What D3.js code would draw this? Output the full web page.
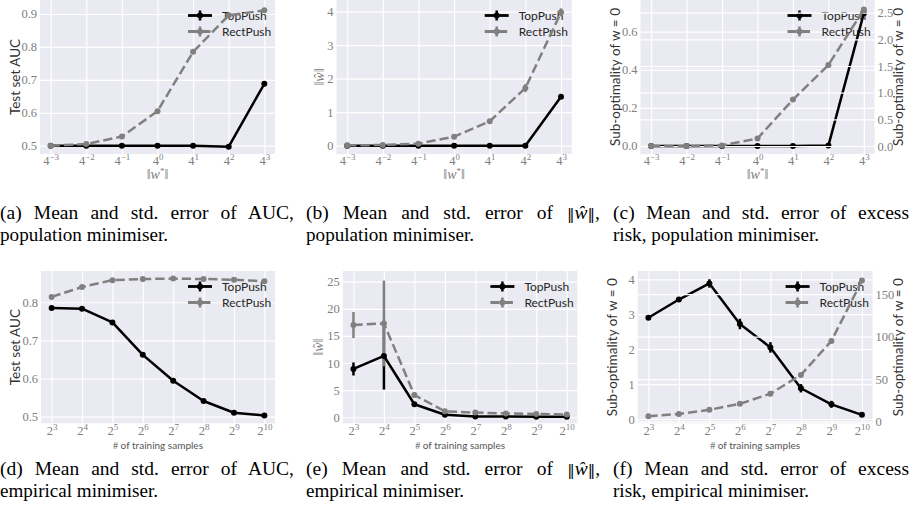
<!DOCTYPE html>
<html>
<head>
<meta charset="utf-8">
<script src="https://cdn.jsdelivr.net/npm/d3@7"></script>
<style>
  body { margin: 0; background: #fff; }
  svg { display: block; }
</style>
</head>
<body>
<svg id="fig" width="909" height="514"></svg>
<script>
// x values are exponents: ||w*|| = 4^k, n = 2^k
const popExponents = [-3, -2, -1, 0, 1, 2, 3];
const sampleExponents = [3, 4, 5, 6, 7, 8, 9, 10];
const seriesNames = ["TopPush", "RectPush"];

// (a) AUC, population minimiser
const aucPopTop = [0.500, 0.500, 0.500, 0.500, 0.500, 0.497, 0.688];
const aucPopTopErr = [0.002, 0.002, 0.002, 0.002, 0.002, 0.002, 0.004];
const aucPopRect = [0.500, 0.505, 0.528, 0.605, 0.785, 0.896, 0.911];
const aucPopRectErr = [0.002, 0.003, 0.003, 0.004, 0.004, 0.004, 0.003];
const aucPopTicks = [0.5, 0.6, 0.7, 0.8, 0.9];

// (b) norm of w-hat, population minimiser
const normPopTop = [0.00, 0.00, 0.00, 0.00, 0.00, 0.00, 1.46];
const normPopTopErr = [0, 0, 0, 0, 0, 0, 0.03];
const normPopRect = [0.01, 0.02, 0.06, 0.27, 0.73, 1.72, 3.98];
const normPopRectErr = [0.00, 0.00, 0.01, 0.02, 0.04, 0.12, 0.12];
const normPopTicks = [0, 1, 2, 3, 4];

// (c) excess risk, population minimiser (RectPush on right axis)
const riskPopTop = [0, 0, 0, 0, 0, 0.002, 0.697];
const riskPopTopErr = [0, 0, 0, 0, 0, 0, 0.01];
const riskPopRect = [0.00, 0.00, 0.01, 0.14, 0.87, 1.52, 2.56];
const riskPopRectErr = [0, 0, 0, 0.01, 0.02, 0.03, 0.03];
const riskPopTicks = [0, 0.2, 0.4, 0.6];
const riskPopRightTicks = [0, 0.5, 1, 1.5, 2, 2.5];

// (d) AUC, empirical minimiser
const aucEmpTop = [0.785, 0.783, 0.747, 0.662, 0.594, 0.541, 0.510, 0.503];
const aucEmpTopErr = [0.003, 0.003, 0.003, 0.003, 0.003, 0.002, 0.002, 0.002];
const aucEmpRect = [0.814, 0.840, 0.858, 0.861, 0.862, 0.861, 0.859, 0.855];
const aucEmpRectErr = [0.003, 0.003, 0.002, 0.002, 0.002, 0.002, 0.002, 0.002];
const aucEmpTicks = [0.5, 0.6, 0.7, 0.8];

// (e) norm of w-hat, empirical minimiser
const normEmpTop = [8.9, 11.3, 2.4, 0.45, 0.15, 0.12, 0.10, 0.10];
const normEmpTopErr = [1.2, 6.2, 0.3, 0.10, 0.05, 0.03, 0.02, 0.02];
const normEmpRect = [17.0, 17.3, 4.1, 1.10, 0.85, 0.70, 0.60, 0.50];
const normEmpRectErr = [2.4, 7.9, 0.5, 0.15, 0.10, 0.08, 0.06, 0.05];
const normEmpTicks = [0, 5, 10, 15, 20, 25];

// (f) excess risk, empirical minimiser (RectPush on right axis)
const riskEmpTop = [2.90, 3.42, 3.88, 2.72, 2.05, 0.88, 0.42, 0.12];
const riskEmpTopErr = [0.05, 0.06, 0.12, 0.15, 0.15, 0.12, 0.10, 0.03];
const riskEmpRect = [6.5, 9, 14, 21, 33, 55, 95, 166];
const riskEmpRectErr = [0.3, 0.4, 0.6, 0.8, 1.0, 1.5, 2.0, 2.5];
const riskEmpTicks = [0, 1, 2, 3, 4];
const riskEmpRightTicks = [0, 50, 100, 150];

const captions = [
  ["(a) Mean and std. error of AUC,", "population minimiser."],
  ["(b) Mean and std. error of \u2016\u0175\u2016,", "population minimiser."],
  ["(c) Mean and std. error of excess", "risk, population minimiser."],
  ["(d) Mean and std. error of AUC,", "empirical minimiser."],
  ["(e) Mean and std. error of \u2016\u0175\u2016,", "empirical minimiser."],
  ["(f) Mean and std. error of excess", "risk, empirical minimiser."]
];

const SERIF = "'Liberation Serif', 'DejaVu Serif', serif";
const SANS = "Lato, 'DejaVu Sans', sans-serif";
const BG = "#eaeaf2";
const TICK = "#808080";
const LABEL = "#333";
const STYLE = [
  { color: "#000", dash: null },
  { color: "#808080", dash: "9.25,4" }
];

const svg = d3.select("#fig");

function gridLines(g, x, y, p, yTicks, withX) {
  const w = p.x1 - p.x0, h = p.y1 - p.y0;
  if (withX) {
    g.append("g").attr("transform", `translate(0,${p.y1})`)
      .call(d3.axisBottom(x).tickValues(p.xs).tickSize(-h).tickFormat(""))
      .call(a => a.select(".domain").remove())
      .call(a => a.selectAll("line").attr("stroke", "#fff").attr("stroke-width", 1.2));
  }
  g.append("g").attr("transform", `translate(${p.x0},0)`)
    .call(d3.axisLeft(y).tickValues(yTicks).tickSize(-w).tickFormat(""))
    .call(a => a.select(".domain").remove())
    .call(a => a.selectAll("line").attr("stroke", "#fff").attr("stroke-width", 1.2));
}

function drawSeries(g, x, y, xs, list) {
  list.forEach(s => {
    const st = STYLE[s.kind];
    g.append("g").selectAll("line").data(s.v).join("line")
      .attr("x1", (d, i) => x(xs[i])).attr("x2", (d, i) => x(xs[i]))
      .attr("y1", (d, i) => y(d - s.e[i])).attr("y2", (d, i) => y(d + s.e[i]))
      .attr("stroke", st.color).attr("stroke-width", 2.5);
  });
  list.forEach(s => {
    const st = STYLE[s.kind];
    const line = d3.line().x((d, i) => x(xs[i])).y(d => y(d));
    g.append("path").datum(s.v)
      .attr("d", line)
      .attr("fill", "none")
      .attr("stroke", st.color)
      .attr("stroke-width", 2.5)
      .attr("stroke-linejoin", "round")
      .attr("stroke-dasharray", st.dash);
    g.append("g").selectAll("circle").data(s.v).join("circle")
      .attr("cx", (d, i) => x(xs[i])).attr("cy", d => y(d))
      .attr("r", 3).attr("fill", st.color);
  });
}

function drawLegend(g, p) {
  const lx = p.x1 - 87, ly = p.y0 + 15.5;
  seriesNames.forEach((name, k) => {
    const st = STYLE[k], yy = ly + k * 16;
    g.append("line").attr("x1", lx).attr("x2", lx + 24).attr("y1", yy).attr("y2", yy)
      .attr("stroke", st.color).attr("stroke-width", 2.8).attr("stroke-dasharray", st.dash);
    g.append("line").attr("x1", lx + 12).attr("x2", lx + 12).attr("y1", yy - 5).attr("y2", yy + 5)
      .attr("stroke", st.color).attr("stroke-width", 2.5);
    g.append("circle").attr("cx", lx + 12).attr("cy", yy).attr("r", 3).attr("fill", st.color);
    g.append("text").attr("x", lx + 34).attr("y", yy).attr("dy", "0.35em")
      .attr("font-family", SANS).attr("font-size", 12).attr("fill", "#262626")
      .text(name);
  });
}

function styleTicks(a) {
  a.select(".domain").remove();
  a.attr("font-family", SERIF).attr("font-size", 12.5);
  a.selectAll("text").attr("fill", TICK);
}

function normHat(t) {
  t.attr("font-family", SERIF).attr("fill", TICK).attr("font-size", 14);
  t.append("tspan").text("\u2016");
  t.append("tspan").attr("font-style", "italic").text("\u0175");
  t.append("tspan").text("\u2016");
}

function subOpt(t) {
  t.attr("font-family", SANS).attr("fill", LABEL).attr("font-size", 13.5)
    .text("Sub-optimality of w = 0");
}

function aucLabel(t) {
  t.attr("font-family", SANS).attr("fill", LABEL).attr("font-size", 13.5)
    .text("Test set AUC");
}

function drawPanel(p) {
  const g = svg.append("g");
  const ext = d3.extent(p.xs), pad = 0.05 * (ext[1] - ext[0]);
  const x = d3.scaleLinear().domain([ext[0] - pad, ext[1] + pad]).range([p.x0, p.x1]);
  const y = d3.scaleLinear().domain(p.yDomain).range([p.y1, p.y0]);

  g.append("rect").attr("x", p.x0).attr("y", p.y0)
    .attr("width", p.x1 - p.x0).attr("height", p.y1 - p.y0).attr("fill", BG);
  gridLines(g, x, y, p, p.yTicks, true);
  drawLegend(g, p);
  drawSeries(g, x, y, p.xs, p.left);

  // left tick labels
  g.append("g").attr("transform", `translate(${p.x0},0)`)
    .call(d3.axisLeft(y).tickValues(p.yTicks).tickSize(0).tickPadding(3).tickFormat(p.yFormat))
    .call(styleTicks);

  // bottom tick labels as base^exp
  g.append("g").attr("transform", `translate(0,${p.y1})`)
    .call(d3.axisBottom(x).tickValues(p.xs).tickSize(0).tickPadding(p.xPad).tickFormat(""))
    .call(styleTicks)
    .selectAll(".tick text").each(function (d) {
      const t = d3.select(this);
      t.append("tspan").text(p.xBase);
      t.append("tspan").attr("dy", -5).attr("font-size", 9)
        .text(String(d).replace("-", "\u2212"));
    });

  if (p.right) {
    const y2 = d3.scaleLinear().domain(p.right.yDomain).range([p.y1, p.y0]);
    gridLines(g, x, y2, p, p.right.yTicks, false);
    drawSeries(g, x, y2, p.xs, p.right.series);
    g.append("g").attr("transform", `translate(${p.x1},0)`)
      .call(d3.axisRight(y2).tickValues(p.right.yTicks).tickSize(0).tickPadding(3).tickFormat(p.right.yFormat))
      .call(styleTicks);
    p.yLabel(g.append("text")
      .attr("transform", `translate(${p.x1 + p.right.labelOffset},${(p.y0 + p.y1) / 2}) rotate(-90)`)
      .attr("text-anchor", "middle").attr("dy", "0.35em"));
  }

  // y label
  p.yLabel(g.append("text")
    .attr("transform", `translate(${p.x0 - p.yLabelOffset},${(p.y0 + p.y1) / 2}) rotate(-90)`)
    .attr("text-anchor", "middle").attr("dy", "0.35em"));

  // x label
  const xl = g.append("text").attr("x", (p.x0 + p.x1) / 2).attr("y", p.y1 + p.xLabelDy)
    .attr("text-anchor", "middle");
  if (p.xBase === "4") {
    xl.attr("font-family", SERIF).attr("font-size", 14).attr("fill", TICK);
    xl.append("tspan").text("\u2016");
    xl.append("tspan").attr("font-style", "italic").text("w");
    xl.append("tspan").attr("dy", -5).attr("font-size", 9).text("*");
    xl.append("tspan").attr("dy", 5).text("\u2016");
  } else {
    xl.attr("font-size", 10).attr("fill", "#555");
    xl.append("tspan").attr("font-family", SERIF).text("#");
    xl.append("tspan").attr("font-family", SANS).text(" of training samples");
  }
}

const f1 = d3.format(".1f");
const f0 = d3.format("d");

drawPanel({
  x0: 40, x1: 275, y0: 0, y1: 154, xs: popExponents, xBase: "4", xPad: 2, xLabelDy: 25,
  yDomain: [0.4748, 0.9425], yTicks: aucPopTicks, yFormat: f1,
  left: [{ v: aucPopTop, e: aucPopTopErr, kind: 0 }, { v: aucPopRect, e: aucPopRectErr, kind: 1 }],
  yLabel: aucLabel, yLabelOffset: 25
});
drawPanel({
  x0: 336.5, x1: 571.7, y0: 0, y1: 154, xs: popExponents, xBase: "4", xPad: 2, xLabelDy: 25,
  yDomain: [-0.248, 4.349], yTicks: normPopTicks, yFormat: f0,
  left: [{ v: normPopTop, e: normPopTopErr, kind: 0 }, { v: normPopRect, e: normPopRectErr, kind: 1 }],
  yLabel: normHat, yLabelOffset: 17
});
drawPanel({
  x0: 640.5, x1: 874.5, y0: 0, y1: 154, xs: popExponents, xBase: "4", xPad: 2, xLabelDy: 25,
  yDomain: [-0.042, 0.766], yTicks: riskPopTicks, yFormat: f1,
  left: [{ v: riskPopTop, e: riskPopTopErr, kind: 0 }],
  right: {
    yDomain: [-0.15, 2.738], yTicks: riskPopRightTicks, yFormat: f1, labelOffset: 24,
    series: [{ v: riskPopRect, e: riskPopRectErr, kind: 1 }]
  },
  yLabel: subOpt, yLabelOffset: 25
});
drawPanel({
  x0: 41, x1: 275, y0: 271, y1: 423.3, xs: sampleExponents, xBase: "2", xPad: 3, xLabelDy: 26,
  yDomain: [0.4824, 0.882], yTicks: aucEmpTicks, yFormat: f1,
  left: [{ v: aucEmpTop, e: aucEmpTopErr, kind: 0 }, { v: aucEmpRect, e: aucEmpRectErr, kind: 1 }],
  yLabel: aucLabel, yLabelOffset: 26
});
drawPanel({
  x0: 342.8, x1: 577.4, y0: 271, y1: 423.3, xs: sampleExponents, xBase: "2", xPad: 3, xLabelDy: 26,
  yDomain: [-1.12, 26.97], yTicks: normEmpTicks, yFormat: f0,
  left: [{ v: normEmpTop, e: normEmpTopErr, kind: 0 }, { v: normEmpRect, e: normEmpRectErr, kind: 1 }],
  yLabel: normHat, yLabelOffset: 25
});
drawPanel({
  x0: 637.7, x1: 872.6, y0: 271, y1: 423.3, xs: sampleExponents, xBase: "2", xPad: 3, xLabelDy: 26,
  yDomain: [-0.123, 4.237], yTicks: riskEmpTicks, yFormat: f0,
  left: [{ v: riskEmpTop, e: riskEmpTopErr, kind: 0 }],
  right: {
    yDomain: [-1.88, 177.3], yTicks: riskEmpRightTicks, yFormat: f0, labelOffset: 26,
    series: [{ v: riskEmpRect, e: riskEmpRectErr, kind: 1 }]
  },
  yLabel: subOpt, yLabelOffset: 25
});

// sub-figure captions: first line justified, second line set to its printed width
const capX = [0, 306, 613];
const capW = [294, 294, 296];
const capW2 = [[168, 168, 206], [158, 158, 196]];
const capY = [219, 475];
captions.forEach((lines, i) => {
  const col = i % 3, row = Math.floor(i / 3);
  lines.forEach((str, j) => {
    const t = svg.append("text")
      .attr("x", capX[col]).attr("y", capY[row] + j * 22)
      .attr("font-family", SERIF).attr("font-size", 19.5).attr("fill", "#000");
    str.split(/(\u2016\u0175\u2016)/).forEach(part => {
      if (!part) return;
      if (part.startsWith("\u2016")) {
        t.append("tspan").attr("font-family", "'DejaVu Serif', serif").attr("font-size", 15).text("\u2016");
        t.append("tspan").attr("font-style", "italic").text("\u0175");
        t.append("tspan").attr("font-family", "'DejaVu Serif', serif").attr("font-size", 15).text("\u2016");
      } else {
        t.append("tspan").text(part);
      }
    });
    if (j === 0) {
      const natural = t.node().getComputedTextLength();
      const spaces = (str.match(/ /g) || []).length;
      t.attr("word-spacing", Math.max(0, (capW[col] - natural) / spaces).toFixed(2));
    } else {
      t.attr("textLength", capW2[row][col]).attr("lengthAdjust", "spacingAndGlyphs");
    }
  });
});
</script>
</body>
</html>
